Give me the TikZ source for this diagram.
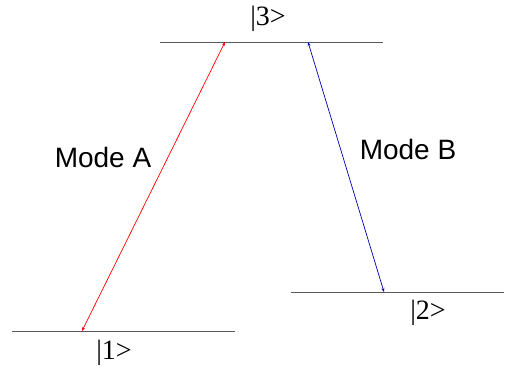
\documentclass[tikz,border=0pt]{standalone}
\usepackage{fontspec}
\setmainfont{Liberation Serif}
\setsansfont{Liberation Sans}
\usetikzlibrary{arrows.meta}

\tikzset{
  level/.style={draw=black!65, line width=1pt},
  ketlabel/.style={font=\fontsize{28}{30}\selectfont},
  modelabel/.style={font=\sffamily\fontsize{28}{30}\selectfont},
  transition/.style={line width=0.7pt, {Stealth[length=4pt,width=3pt]}-{Stealth[length=4pt,width=3pt]}}
}

\begin{document}
\begin{tikzpicture}[x=1pt,y=-1pt]
\useasboundingbox (0,0) rectangle (505,370);

% Energy levels
\coordinate (L3a) at (160,42);
\coordinate (L3b) at (383,42);
\coordinate (L1a) at (12,331);
\coordinate (L1b) at (235,331);
\coordinate (L2a) at (291,292);
\coordinate (L2b) at (504,292);
\draw[level] (L3a) -- (L3b);
\draw[level] (L1a) -- (L1b);
\draw[level] (L2a) -- (L2b);

% Level labels
\node[ketlabel] (k3) at (268,19) {|3>};
\node[ketlabel] (k1) at (114,353) {|1>};
\node[ketlabel] (k2) at (428,313) {|2>};

% Transitions
\coordinate (A1) at (82,331);
\coordinate (A3) at (225,42);
\coordinate (B3) at (308,42);
\coordinate (B2) at (384,292);
\draw[transition, red] (A1) -- (A3);
\draw[transition, blue!70!black] (B3) -- (B2);

% Mode labels
\node[modelabel] (modeA) at (103,157) {Mode A};
\node[modelabel] (modeB) at (408,149) {Mode B};
\end{tikzpicture}
\end{document}
